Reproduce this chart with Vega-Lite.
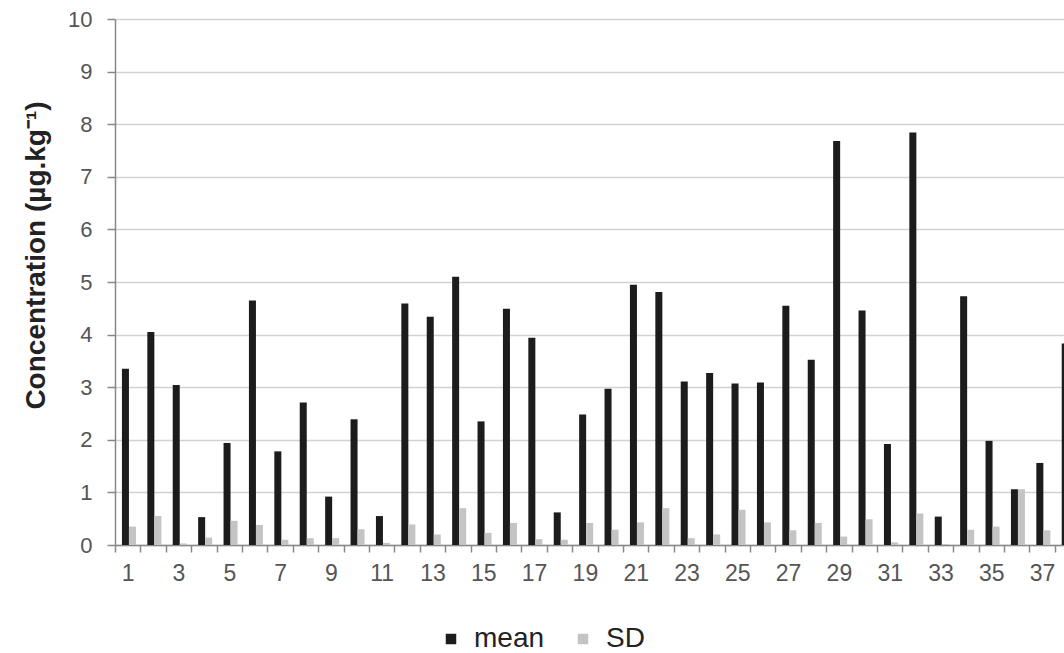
{
  "$schema": "https://vega.github.io/schema/vega-lite/v6.json",
  "autosize": {"type": "none"},
  "padding": {"left": 115, "top": 19, "right": 0, "bottom": 108},
  "width": 949,
  "height": 526,
  "background": "#ffffff",
  "config": {
    "view": {"stroke": null},
    "font": "Liberation Sans"
  },
  "data": {
    "values": [
      {"sample": 1, "stat": "mean", "value": 3.35}, {"sample": 1, "stat": "SD", "value": 0.35},
      {"sample": 2, "stat": "mean", "value": 4.05}, {"sample": 2, "stat": "SD", "value": 0.55},
      {"sample": 3, "stat": "mean", "value": 3.04}, {"sample": 3, "stat": "SD", "value": 0.03},
      {"sample": 4, "stat": "mean", "value": 0.53}, {"sample": 4, "stat": "SD", "value": 0.14},
      {"sample": 5, "stat": "mean", "value": 1.94}, {"sample": 5, "stat": "SD", "value": 0.46},
      {"sample": 6, "stat": "mean", "value": 4.65}, {"sample": 6, "stat": "SD", "value": 0.38},
      {"sample": 7, "stat": "mean", "value": 1.78}, {"sample": 7, "stat": "SD", "value": 0.1},
      {"sample": 8, "stat": "mean", "value": 2.71}, {"sample": 8, "stat": "SD", "value": 0.13},
      {"sample": 9, "stat": "mean", "value": 0.92}, {"sample": 9, "stat": "SD", "value": 0.13},
      {"sample": 10, "stat": "mean", "value": 2.39}, {"sample": 10, "stat": "SD", "value": 0.3},
      {"sample": 11, "stat": "mean", "value": 0.55}, {"sample": 11, "stat": "SD", "value": 0.04},
      {"sample": 12, "stat": "mean", "value": 4.59}, {"sample": 12, "stat": "SD", "value": 0.39},
      {"sample": 13, "stat": "mean", "value": 4.34}, {"sample": 13, "stat": "SD", "value": 0.2},
      {"sample": 14, "stat": "mean", "value": 5.1}, {"sample": 14, "stat": "SD", "value": 0.7},
      {"sample": 15, "stat": "mean", "value": 2.35}, {"sample": 15, "stat": "SD", "value": 0.23},
      {"sample": 16, "stat": "mean", "value": 4.49}, {"sample": 16, "stat": "SD", "value": 0.42},
      {"sample": 17, "stat": "mean", "value": 3.94}, {"sample": 17, "stat": "SD", "value": 0.11},
      {"sample": 18, "stat": "mean", "value": 0.62}, {"sample": 18, "stat": "SD", "value": 0.1},
      {"sample": 19, "stat": "mean", "value": 2.48}, {"sample": 19, "stat": "SD", "value": 0.42},
      {"sample": 20, "stat": "mean", "value": 2.97}, {"sample": 20, "stat": "SD", "value": 0.29},
      {"sample": 21, "stat": "mean", "value": 4.95}, {"sample": 21, "stat": "SD", "value": 0.43},
      {"sample": 22, "stat": "mean", "value": 4.81}, {"sample": 22, "stat": "SD", "value": 0.7},
      {"sample": 23, "stat": "mean", "value": 3.11}, {"sample": 23, "stat": "SD", "value": 0.13},
      {"sample": 24, "stat": "mean", "value": 3.27}, {"sample": 24, "stat": "SD", "value": 0.2},
      {"sample": 25, "stat": "mean", "value": 3.07}, {"sample": 25, "stat": "SD", "value": 0.67},
      {"sample": 26, "stat": "mean", "value": 3.09}, {"sample": 26, "stat": "SD", "value": 0.43},
      {"sample": 27, "stat": "mean", "value": 4.55}, {"sample": 27, "stat": "SD", "value": 0.28},
      {"sample": 28, "stat": "mean", "value": 3.52}, {"sample": 28, "stat": "SD", "value": 0.42},
      {"sample": 29, "stat": "mean", "value": 7.68}, {"sample": 29, "stat": "SD", "value": 0.16},
      {"sample": 30, "stat": "mean", "value": 4.46}, {"sample": 30, "stat": "SD", "value": 0.49},
      {"sample": 31, "stat": "mean", "value": 1.92}, {"sample": 31, "stat": "SD", "value": 0.05},
      {"sample": 32, "stat": "mean", "value": 7.84}, {"sample": 32, "stat": "SD", "value": 0.6},
      {"sample": 33, "stat": "mean", "value": 0.54}, {"sample": 33, "stat": "SD", "value": 0.02},
      {"sample": 34, "stat": "mean", "value": 4.73}, {"sample": 34, "stat": "SD", "value": 0.29},
      {"sample": 35, "stat": "mean", "value": 1.98}, {"sample": 35, "stat": "SD", "value": 0.35},
      {"sample": 36, "stat": "mean", "value": 1.06}, {"sample": 36, "stat": "SD", "value": 1.06},
      {"sample": 37, "stat": "mean", "value": 1.56}, {"sample": 37, "stat": "SD", "value": 0.28},
      {"sample": 38, "stat": "mean", "value": 3.83}, {"sample": 38, "stat": "SD", "value": 0.3}
    ]
  },
  "mark": {"type": "bar", "clip": false},
  "encoding": {
    "x": {
      "field": "sample",
      "type": "ordinal",
      "sort": "ascending",
      "scale": {"range": [0, 965.2], "paddingInner": 0, "paddingOuter": 0},
      "axis": {
        "title": null,
        "labelAngle": 0,
        "tickBand": "extent",
        "labelExpr": "datum.value % 2 == 1 ? datum.label : ''",
        "labelFont": "Liberation Sans",
        "labelFontSize": 23,
        "labelColor": "#555555",
        "labelPadding": 10,
        "tickSize": 7,
        "tickColor": "#888888",
        "tickWidth": 1.5,
        "domainColor": "#888888",
        "domainWidth": 1.5,
        "grid": false
      }
    },
    "xOffset": {
      "field": "stat",
      "sort": ["mean", "SD"],
      "scale": {"paddingInner": 0, "paddingOuter": 0.81, "align": 0.61}
    },
    "y": {
      "field": "value",
      "type": "quantitative",
      "scale": {"domain": [0, 10], "nice": false},
      "axis": {
        "title": "Concentration (µg.kg⁻¹)",
        "titleFont": "Liberation Sans",
        "titleFontSize": 28,
        "titleFontWeight": "bold",
        "titleColor": "#222222",
        "titleAngle": -90,
        "titleAlign": "center",
        "titleBaseline": "alphabetic",
        "titleX": -71,
        "titleY": 236,
        "values": [0, 1, 2, 3, 4, 5, 6, 7, 8, 9, 10],
        "labelFont": "Liberation Sans",
        "labelFontSize": 22,
        "labelColor": "#555555",
        "labelPadding": 15,
        "tickSize": 8,
        "tickColor": "#888888",
        "tickWidth": 1.5,
        "domainColor": "#888888",
        "domainWidth": 1.5,
        "grid": true,
        "gridColor": "#d2d2d2",
        "gridWidth": 1.5
      }
    },
    "color": {
      "field": "stat",
      "type": "nominal",
      "scale": {"domain": ["mean", "SD"], "range": ["#1c1c1c", "#c4c4c4"]},
      "legend": {
        "title": null,
        "orient": "none",
        "direction": "horizontal",
        "legendX": 322,
        "legendY": 606,
        "padding": 0,
        "symbolType": "square",
        "symbolSize": 110,
        "symbolStrokeWidth": 0,
        "labelFont": "Liberation Sans",
        "labelFontSize": 28,
        "labelColor": "#222222",
        "labelOffset": 9,
        "columnPadding": 24
      }
    }
  }
}
